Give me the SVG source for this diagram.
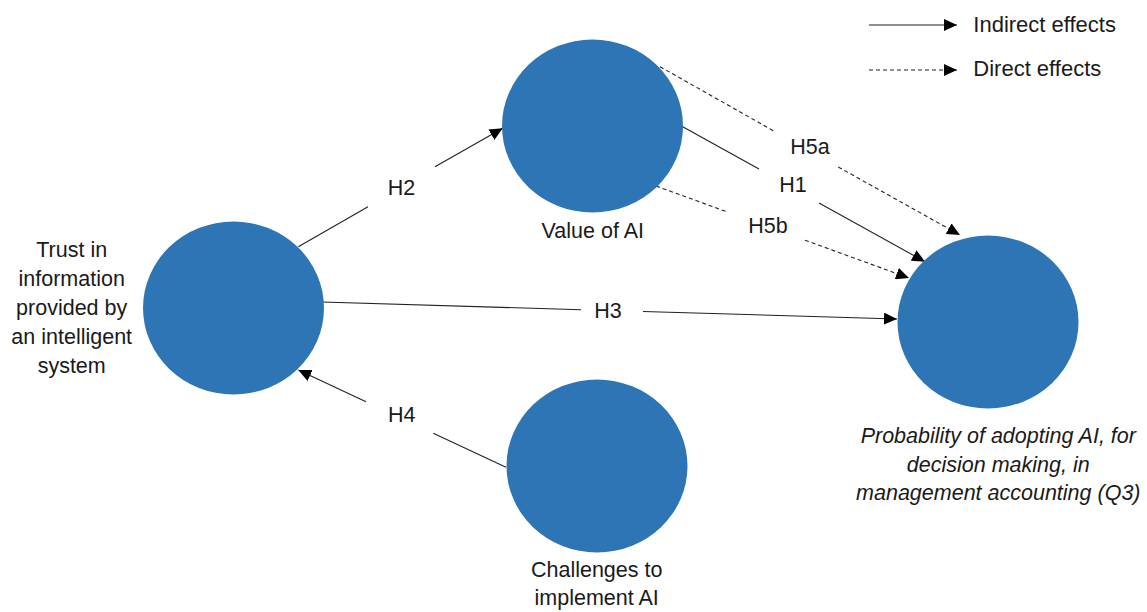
<svg xmlns="http://www.w3.org/2000/svg" width="1147" height="612" viewBox="0 0 1147 612">
<style>
.node{fill:#2E75B6;}
.t{font-family:"Liberation Sans",Arial,sans-serif;font-size:21.5px;fill:#1a1a1a;text-anchor:middle;}
.it{font-style:italic;font-size:21.5px;}
.lg{text-anchor:start;font-size:22px;}
.c{fill:none;stroke:#222;stroke-width:1.1;marker-end:url(#ah);}
.d{stroke-dasharray:4 3;}
</style>
<defs>
<marker id="ah" markerUnits="userSpaceOnUse" markerWidth="14" markerHeight="12" refX="13" refY="6" orient="auto">
<path d="M0,0 L13,6 L0,12 z" fill="#000"/>
</marker>
</defs>
<rect width="1147" height="612" fill="#fff"/>
<g id="connectors">
<path id="c-h2" class="c" d="M298.3,246.7 L368,206.7 M435,166.7 L502.7,128.3"/>
<path id="c-h3" class="c" d="M322,302 L581,309.7 M643,311.5 L897,319"/>
<path id="c-h4" class="c" d="M506,467.3 L433.3,433.3 M366,401.7 L298.3,370"/>
<path id="c-h1" class="c" d="M682.7,126.7 L759,169 M819,203 L925,261.7"/>
<path id="c-h5a" class="c d" d="M660,66.7 L775,131.7 M838.3,167 L960,235"/>
<path id="c-h5b" class="c d" d="M656,186 L728.3,212.3 M805,240.2 L909,278"/>
<path id="legend-solid" class="c" d="M869,25 L957,25"/>
<path id="legend-dashed" class="c d" d="M869,70 L957,70"/>
</g>
<g id="labels">
<text class="t" x="401.5" y="195">H2</text>
<text class="t" x="608" y="318">H3</text>
<text class="t" x="401.7" y="421.5">H4</text>
<text class="t" x="793" y="192">H1</text>
<text class="t" x="810" y="154">H5a</text>
<text class="t" x="768" y="233">H5b</text>
</g>
<g id="node-trust">
<ellipse class="node" cx="233.5" cy="308" rx="90.5" ry="86.5"/>
<text class="t" x="71.7" y="257.3">Trust in</text>
<text class="t" x="71.7" y="286.2">information</text>
<text class="t" x="71.7" y="315.1">provided by</text>
<text class="t" x="71.7" y="344">an intelligent</text>
<text class="t" x="71.7" y="372.9">system</text>
</g>
<g id="node-value">
<ellipse class="node" cx="592.5" cy="126" rx="90.5" ry="86.5"/>
<text class="t" x="592.8" y="238.3">Value of AI</text>
</g>
<g id="node-challenges">
<ellipse class="node" cx="597" cy="466" rx="90.5" ry="86.5"/>
<text class="t" x="596.7" y="576.7">Challenges to</text>
<text class="t" x="596.7" y="605.2">implement AI</text>
</g>
<g id="node-probability">
<ellipse class="node" cx="988" cy="322" rx="90.5" ry="86.5"/>
<text class="t it" x="998.3" y="443.3">Probability of adopting AI, for</text>
<text class="t it" x="998.3" y="471.7">decision making, in</text>
<text class="t it" x="998.3" y="500">management accounting (Q3)</text>
</g>
<g id="legend">
<text class="t lg" x="973.3" y="31.7">Indirect effects</text>
<text class="t lg" x="973.3" y="75.5">Direct effects</text>
</g>
</svg>
